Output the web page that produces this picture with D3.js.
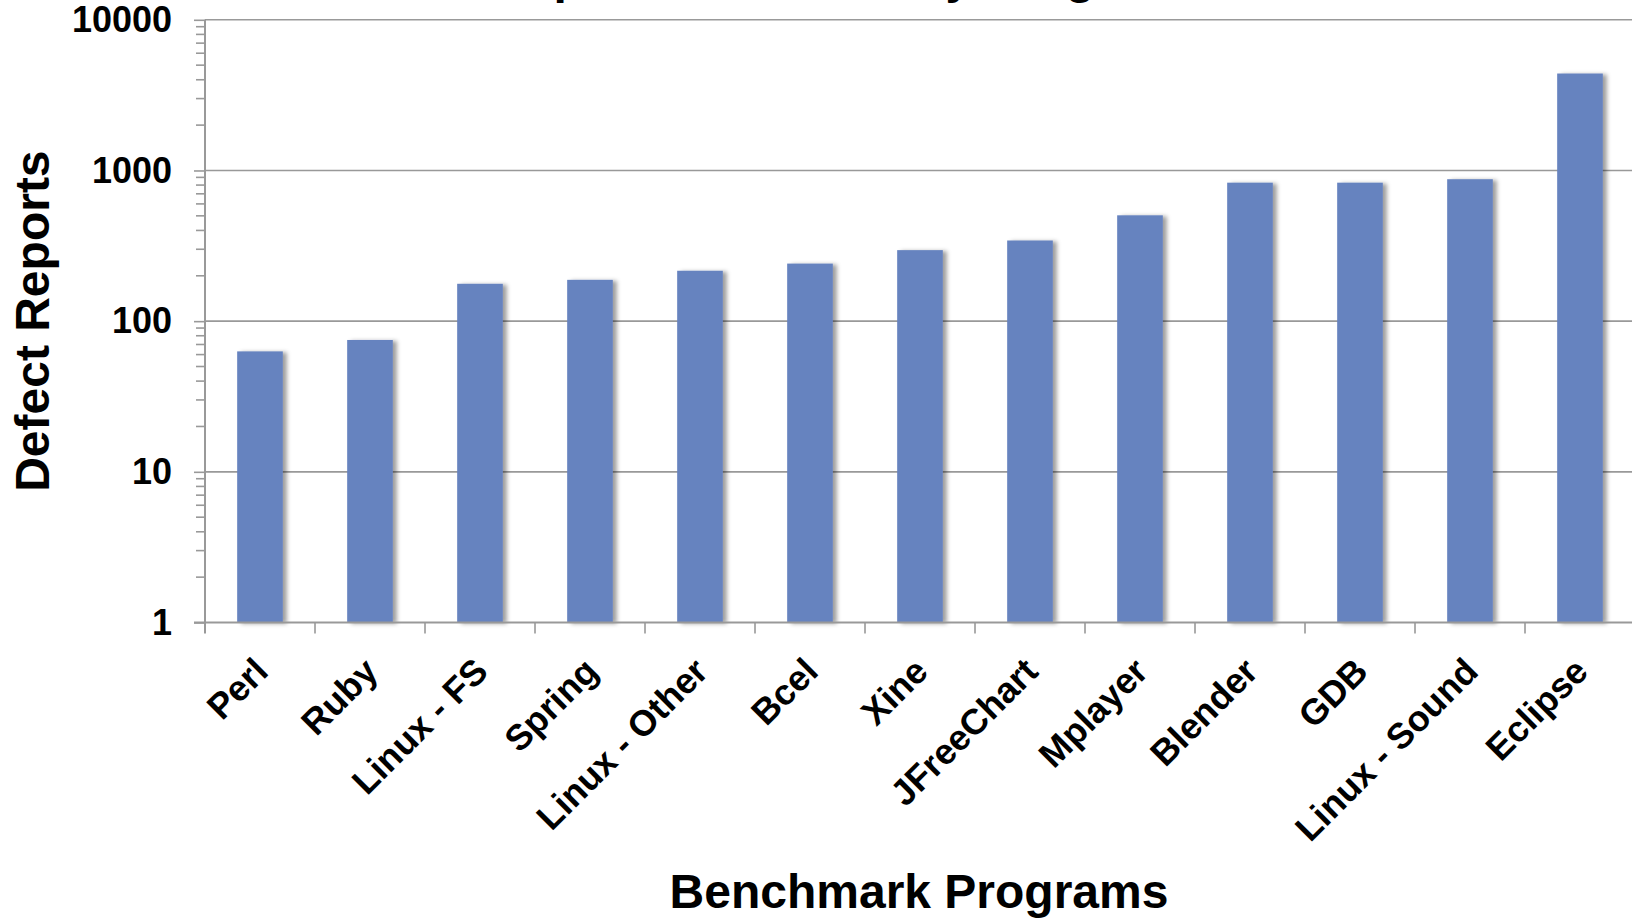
<!DOCTYPE html>
<html>
<head>
<meta charset="utf-8">
<script src="https://cdn.jsdelivr.net/npm/d3@7"></script>
<style>
  html, body { margin: 0; padding: 0; background: #fff; overflow: hidden; }
  svg { display: block; font-family: "Liberation Sans", Arial, sans-serif; font-weight: bold; }
</style>
</head>
<body>
<div id="chart"></div>
<script>
// data
const programs = ["Perl", "Ruby", "Linux - FS", "Spring", "Linux - Other", "Bcel", "Xine",
                  "JFreeChart", "Mplayer", "Blender", "GDB", "Linux - Sound", "Eclipse"];
const defectReports = [63, 75, 177, 188, 216, 241, 296, 343, 504, 830, 830, 875, 4400];
const yTicks = [1, 10, 100, 1000, 10000];
const titleText = "Defect Reports Collected by Program";
const yTitle = "Defect Reports";
const xTitle = "Benchmark Programs";

const W = 1632, H = 918;
const plot = {left: 205, top: 19.8, bottom: 622.5, step: 110};

const svg = d3.select("#chart").append("svg")
    .attr("width", W).attr("height", H)
    .attr("viewBox", `0 0 ${W} ${H}`);

// soft drop shadow like the office chart bars
const defs = svg.append("defs");
const f = defs.append("filter").attr("id", "shadow")
    .attr("x", "-20%").attr("y", "-5%").attr("width", "150%").attr("height", "110%");
f.append("feDropShadow").attr("dx", 4).attr("dy", 1).attr("stdDeviation", 2)
    .attr("flood-color", "#000").attr("flood-opacity", 0.38);

const x = d3.scaleBand()
    .domain(programs)
    .range([plot.left, plot.left + plot.step * programs.length])
    .paddingInner(0.585).paddingOuter(0.2925);

const y = d3.scaleLog().domain([1, 10000]).range([plot.bottom, plot.top]);

// title, mostly cut off by the top edge (as in the source image)
svg.append("text")
    .attr("x", 332).attr("y", -7)
    .attr("font-size", 48)
    .text(titleText);

// gridlines
svg.append("g").selectAll("line")
  .data(yTicks.slice(1))
  .join("line")
    .attr("x1", plot.left).attr("x2", W)
    .attr("y1", d => y(d)).attr("y2", d => y(d))
    .attr("stroke", "#999").attr("stroke-width", 1.6);

// minor ticks on log axis
const minor = [];
yTicks.slice(0, -1).forEach(d => { for (let k = 2; k <= 9; k++) minor.push(d * k); });
svg.append("g").selectAll("line")
  .data(minor)
  .join("line")
    .attr("x1", plot.left - 9).attr("x2", plot.left)
    .attr("y1", d => y(d)).attr("y2", d => y(d))
    .attr("stroke", "#999").attr("stroke-width", 1.6);

// bars
svg.append("g").selectAll("rect")
  .data(programs.map((p, i) => ({p, v: defectReports[i]})))
  .join("rect")
    .attr("x", d => x(d.p))
    .attr("width", x.bandwidth())
    .attr("y", d => y(d.v))
    .attr("height", d => y(1) - y(d.v))
    .attr("fill", "#6683bf")
    .attr("filter", "url(#shadow)");

// y axis
const yAxis = svg.append("g")
    .attr("transform", `translate(${plot.left},0)`)
    .call(d3.axisLeft(y).tickValues(yTicks).tickFormat(d3.format("d"))
      .tickSize(11).tickPadding(22));
yAxis.select(".domain").attr("stroke", "#999").attr("stroke-width", 2)
    .attr("d", `M0,${plot.top}V${plot.bottom + 11}`);
yAxis.selectAll(".tick line").attr("stroke", "#999").attr("stroke-width", 1.6);
yAxis.selectAll(".tick text").attr("font-size", 36).attr("fill", "#000")
    .attr("font-family", "Liberation Sans, Arial, sans-serif").attr("font-weight", "bold");

// x axis line and category boundary ticks
svg.append("line")
    .attr("x1", plot.left - 11).attr("x2", W)
    .attr("y1", plot.bottom).attr("y2", plot.bottom)
    .attr("stroke", "#999").attr("stroke-width", 2);
const edges = programs.map(p => x(p) - (x.step() - x.bandwidth()) / 2);
svg.append("g").selectAll("line")
  .data(edges.slice(1))
  .join("line")
    .attr("x1", d => d).attr("x2", d => d)
    .attr("y1", plot.bottom).attr("y2", plot.bottom + 11)
    .attr("stroke", "#999").attr("stroke-width", 1.6);

// rotated category labels
svg.append("g").selectAll("text")
  .data(programs)
  .join("text")
    .attr("transform", d => `translate(${x(d) + x.bandwidth() / 2 + 10},${plot.bottom + 51}) rotate(-45)`)
    .attr("text-anchor", "end")
    .attr("font-size", 36)
    .text(d => d);

// axis titles
svg.append("text")
    .attr("transform", `translate(49,${(plot.top + plot.bottom) / 2}) rotate(-90)`)
    .attr("text-anchor", "middle")
    .attr("font-size", 48)
    .text(yTitle);

svg.append("text")
    .attr("x", 919).attr("y", 908)
    .attr("text-anchor", "middle")
    .attr("font-size", 48)
    .text(xTitle);
</script>
</body>
</html>
